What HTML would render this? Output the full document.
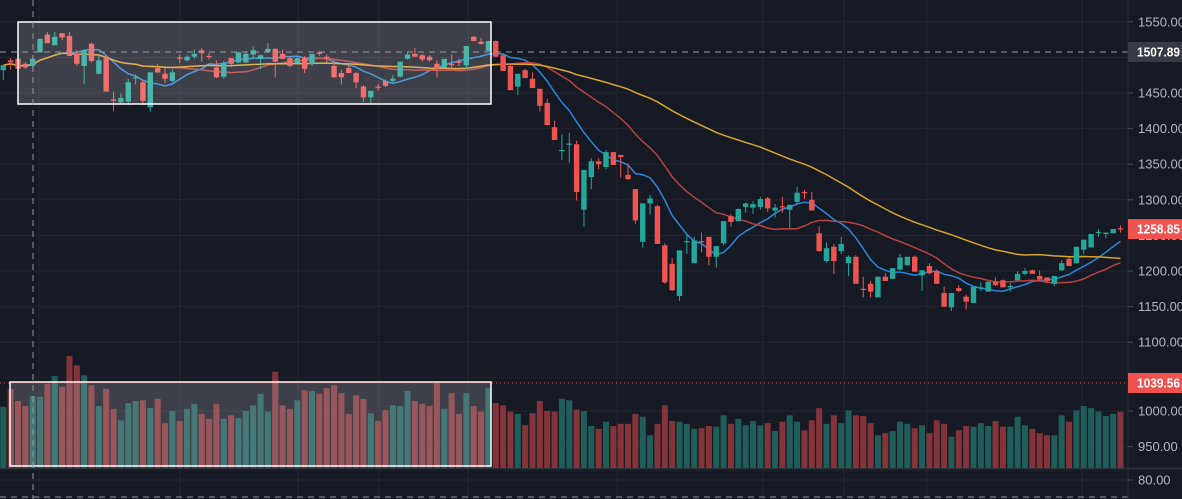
<!DOCTYPE html>
<html><head><meta charset="utf-8"><style>
html,body{margin:0;padding:0;background:#161a25;}
svg{display:block;font-family:"Liberation Sans",sans-serif;}
</style></head><body>
<svg id="chart" width="1182" height="499" viewBox="0 0 1182 499" xmlns="http://www.w3.org/2000/svg">
<rect x="0" y="0" width="1182" height="499" fill="#161a25"/>
<g id="grid"></g>
<g id="vol"></g>
<g id="ma"></g>
<g id="candles"></g>
<g id="overlay"></g>
<g id="axis"></g>
</svg>
<script>
const opens=[1482,1496,1498,1491,1488,1507,1532,1517,1534,1530,1505,1488,1519,1477,1499,1441,1437,1438,1471,1465,1430,1485,1477,1467,1500,1496,1501,1510,1502,1486,1473,1499,1493,1493,1504,1498,1508,1512,1505,1499,1492,1499,1491,1507,1501,1488,1478,1485,1478,1459,1444,1459,1467,1467,1473,1498,1505,1503,1501,1491,1486,1491,1494,1489,1529,1522,1509,1523,1503,1488,1459,1482,1470,1456,1436,1402,1370,1378,1378,1286,1332,1354,1346,1367,1363,1335,1315,1241,1295,1291,1236,1210,1165,1241,1211,1242,1248,1220,1239,1277,1270,1290,1289,1290,1302,1285,1291,1286,1297,1311,1300,1253,1214,1234,1228,1211,1220,1175,1182,1163,1192,1189,1202,1208,1220,1194,1207,1200,1169,1149,1176,1164,1155,1176,1171,1185,1187,1178,1187,1196,1201,1193,1191,1182,1201,1217,1211,1230,1233,1254,1252,1253,1260];
const closes=[1489,1493,1484,1486,1498,1526,1520,1529,1528,1502,1491,1510,1495,1496,1452,1439,1443,1465,1472,1439,1479,1479,1470,1479,1498,1501,1505,1506,1501,1472,1492,1491,1507,1505,1510,1503,1512,1494,1498,1488,1499,1484,1505,1505,1499,1472,1472,1478,1465,1444,1453,1458,1460,1470,1494,1504,1501,1497,1496,1484,1498,1489,1493,1516,1523,1519,1523,1501,1481,1454,1477,1471,1457,1432,1405,1384,1370,1379,1311,1342,1354,1350,1367,1349,1360,1329,1271,1295,1302,1238,1184,1173,1229,1242,1243,1241,1220,1235,1270,1269,1287,1295,1294,1301,1288,1289,1290,1293,1310,1310,1285,1228,1232,1214,1238,1220,1182,1174,1171,1192,1186,1204,1219,1220,1199,1201,1197,1182,1150,1169,1172,1157,1178,1177,1185,1180,1177,1179,1196,1200,1196,1188,1186,1193,1211,1207,1234,1244,1252,1255,1254,1259,1258.85];
const highs=[1489,1499,1498,1493,1501,1526,1536,1536,1534,1536,1511,1510,1521,1504,1502,1452,1449,1470,1476,1469,1479,1491,1485,1483,1504,1503,1511,1513,1506,1496,1495,1499,1508,1508,1516,1504,1520,1513,1511,1502,1501,1502,1505,1509,1504,1496,1483,1488,1480,1461,1453,1463,1469,1475,1494,1508,1513,1505,1503,1496,1498,1504,1498,1516,1530,1527,1523,1524,1506,1492,1477,1484,1479,1456,1442,1411,1392,1394,1383,1342,1358,1358,1370,1367,1363,1351,1315,1295,1307,1293,1239,1218,1229,1252,1248,1254,1248,1235,1270,1280,1288,1296,1298,1304,1304,1294,1304,1293,1318,1314,1311,1263,1240,1238,1248,1222,1222,1192,1186,1192,1197,1204,1224,1220,1222,1201,1211,1202,1178,1169,1180,1167,1178,1184,1185,1191,1188,1183,1200,1204,1202,1201,1191,1193,1215,1219,1234,1244,1252,1259,1254,1259,1264];
const lows=[1468,1483,1482,1484,1485,1507,1520,1517,1524,1502,1488,1463,1493,1476,1452,1424,1434,1433,1462,1433,1424,1478,1464,1465,1492,1494,1498,1494,1497,1471,1470,1486,1492,1492,1499,1484,1506,1472,1497,1486,1492,1478,1488,1502,1493,1472,1462,1478,1457,1437,1436,1453,1458,1465,1472,1497,1501,1494,1494,1472,1486,1483,1488,1484,1523,1518,1509,1501,1481,1454,1447,1471,1457,1424,1405,1384,1356,1352,1299,1262,1315,1343,1343,1349,1331,1328,1266,1233,1279,1238,1182,1172,1158,1224,1211,1226,1208,1205,1236,1262,1270,1282,1280,1286,1283,1275,1282,1260,1295,1301,1285,1227,1212,1196,1224,1193,1182,1163,1163,1163,1186,1189,1201,1208,1199,1172,1195,1182,1149,1144,1170,1146,1155,1172,1171,1179,1177,1171,1186,1194,1196,1186,1183,1179,1200,1207,1211,1224,1233,1248,1246,1253,1254];
const volumes=[1006,1031,1014,1007,1021,1020,1038,1049,1034,1077,1064,1050,1036,1007,1031,1003,987,1011,1014,1015,1004,1017,983,1000,986,1003,1010,996,989,1010,989,994,990,1000,1008,1024,999,1055,1008,1003,1015,1029,1028,1024,1032,1036,1025,996,1022,1017,997,986,1001,1008,1007,1028,1014,1010,1007,1039,1003,1025,996,1025,1007,999,1032,1011,1008,999,996,980,997,1014,1000,999,1017,1015,1002,1000,979,975,985,979,982,982,996,992,966,982,1008,986,985,982,975,976,979,978,994,982,989,980,986,980,983,972,985,994,985,973,987,1004,982,994,983,1001,994,993,983,966,969,972,985,982,976,980,969,987,982,964,973,979,978,983,979,986,978,978,992,980,975,969,966,966,994,985,1001,1007,1004,999,993,996,999];
const priceTicks=[1550,1500,1450,1400,1350,1300,1250,1200,1150,1100];
const volTicks=[1000,950];
const maPeriods=[9,20,50];

const NS="http://www.w3.org/2000/svg";
function mk(tag,attrs,parent){const e=document.createElementNS(NS,tag);for(const k in attrs)e.setAttribute(k,attrs[k]);parent.appendChild(e);return e;}
const xOf=i=>3.3+i*7.35;
const yP=p=>271-(p-1200)*0.712;
const yV=v=>411-(v-1000)*0.714;
const VBASE=468;
const G=document.getElementById('grid'),V=document.getElementById('vol'),M=document.getElementById('ma'),C=document.getElementById('candles'),O=document.getElementById('overlay'),A=document.getElementById('axis');

[39,180,298,379,468,617,763,844,927,1082].forEach(x=>{
  const l=mk('line',{x1:x,y1:0,x2:x,y2:499,stroke:'#232632','stroke-width':1},G);
  
  
});
priceTicks.concat([1050]).forEach(p=>{
  const l=mk('line',{x1:0,y1:yP(p),x2:1128,y2:yP(p),stroke:'#232632','stroke-width':1},G);
  
  
});
volTicks.forEach(v=>{
  const l=mk('line',{x1:0,y1:yV(v),x2:1128,y2:yV(v),stroke:'#232632','stroke-width':1},G);
  
  
});
const sep=mk('line',{x1:0,y1:VBASE+0.5,x2:1182,y2:VBASE+0.5,stroke:'#2a2e39','stroke-width':2},G);


const g80=mk('line',{x1:0,y1:480,x2:1128,y2:480,stroke:'#232632','stroke-width':1},G);



volumes.forEach((v,i)=>{
  const up=closes[i]>=opens[i];
  const y=yV(v);
  const r=mk('rect',{x:xOf(i)-3,y:y,width:6,height:VBASE-y,fill:up?'#1f5d5b':'#843439'},V);
  
  
});

const maColors=['#2a86d9','#b8403f','#d9a22a'];
maPeriods.forEach((per,k)=>{
  let d='';
  for(let i=0;i<closes.length;i++){
    const s=Math.max(0,i-per+1);let sum=0;for(let j=s;j<=i;j++)sum+=closes[j];
    const m=sum/(i-s+1);
    d+=(i?'L':'M')+xOf(i).toFixed(1)+','+yP(m).toFixed(1);
  }
  const p=mk('path',{d:d,fill:'none',stroke:maColors[k],'stroke-width':1.5},M);
  
  
});

opens.forEach((o,i)=>{
  const c=closes[i],up=c>=o,col=up?'#26a69a':'#ef5350';
  const g=mk('g',{},C);
  
  
  const x=xOf(i);
  mk('line',{x1:x,y1:yP(highs[i]),x2:x,y2:yP(lows[i]),stroke:col,'stroke-width':1},g);
  const t=yP(Math.max(o,c)),b=yP(Math.min(o,c));
  mk('rect',{x:x-2.7,y:t,width:5.4,height:Math.max(1.2,b-t),fill:col},g);
});

const s1=mk('rect',{x:18,y:22,width:473,height:82,fill:'rgba(255,255,255,0.17)',stroke:'#ffffff','stroke-width':1.5},O);


const s2=mk('rect',{x:10,y:382,width:481,height:84,fill:'rgba(255,255,255,0.17)',stroke:'#ffffff','stroke-width':1.5},O);



const chv=mk('line',{x1:33,y1:0,x2:33,y2:499,stroke:'#9598a1','stroke-width':1,'stroke-dasharray':'6,5'},O);


const chh=mk('line',{x1:0,y1:52,x2:1128,y2:52,stroke:'#9598a1','stroke-width':1,'stroke-dasharray':'6,5'},O);


const vl=mk('line',{x1:0,y1:383,x2:1128,y2:383,stroke:'#ef5350','stroke-width':1,'stroke-dasharray':'1,3'},O);


const bl=mk('line',{x1:0,y1:497,x2:1128,y2:497,stroke:'#9598a1','stroke-width':1,'stroke-dasharray':'6,5'},O);



const axb=mk('line',{x1:1128,y1:0,x2:1128,y2:499,stroke:'#2a2e39','stroke-width':1},A);


function tick(y,label,name){
  const tl=mk('line',{x1:1128,y1:y,x2:1133,y2:y,stroke:'#4a4e59','stroke-width':1},A);
  
  
  const t=mk('text',{x:1138,y:y+4.5,fill:'#b2b5be','font-size':13},A);
  t.textContent=label;
  
  
}
priceTicks.forEach(p=>tick(yP(p),p.toFixed(2),'price-tick'));
tick(yP(1050),'1050.00','price-tick');
volTicks.forEach(v=>tick(yV(v),v.toFixed(2),'volume-tick'));
tick(480,'80.00','lower-tick');
function badge(y,label,bg,name){
  const g=mk('g',{},A);
  
  
  mk('rect',{x:1128,y:y-10,width:54,height:20,fill:bg},g);
  const t=mk('text',{x:1137,y:y+4.5,fill:'#ffffff','font-size':12.5,'font-weight':'bold',textLength:43,lengthAdjust:'spacingAndGlyphs'},g);
  t.textContent=label;
}
badge(52,'1507.89','#363a45','crosshair-price-label');
badge(yP(closes[closes.length-1]),closes[closes.length-1].toFixed(2),'#ef5350','last-price-label');
badge(383,'1039.56','#ef5350','volume-last-label');
</script>
</body></html>
